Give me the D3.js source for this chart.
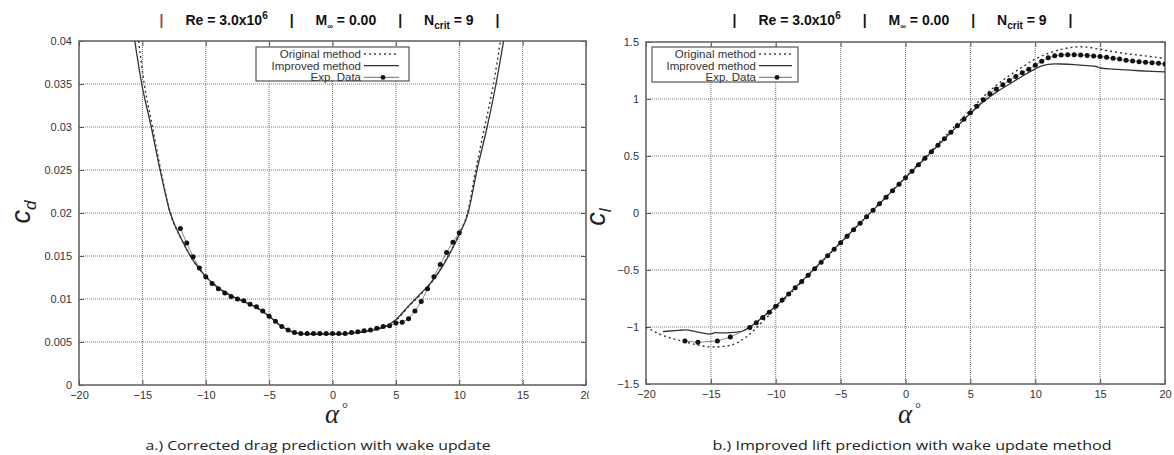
<!DOCTYPE html>
<html>
<head>
<meta charset="utf-8">
<script src="https://cdn.jsdelivr.net/npm/d3@7"></script>
<style>
  body { margin: 0; background: #fff; }
  svg { display: block; }
  .tick-label { font-family: "Liberation Sans", Arial, sans-serif; font-size: 11px; fill: #333; }
  .legend-text { font-family: "Liberation Sans", Arial, sans-serif; font-size: 11.5px; fill: #333; }
  .header { font-family: "Liberation Sans", Arial, sans-serif; font-size: 14px; font-weight: bold; fill: #111; }
  .caption { font-family: "Open Sans", sans-serif; font-size: 13.5px; fill: #222; }
</style>
</head>
<body>
<div id="chart"></div>
<script>
// tick labels
let alphaTicks = [-20, -15, -10, -5, 0, 5, 10, 15, 20];
let cdTicks = [0, 0.005, 0.01, 0.015, 0.02, 0.025, 0.03, 0.035, 0.04];
let clTicks = [-1.5, -1, -0.5, 0, 0.5, 1, 1.5];
let legendLabels = ["Original method", "Improved method", "Exp. Data"];
let captions = ["a.) Corrected drag prediction with wake update", "b.) Improved lift prediction with wake update method"];

// drag polar, [alpha, cd]
let cdOriginal = [[-15.3,0.040],[-14.85,0.035],[-14.2,0.030],[-13.55,0.025],[-12.8,0.020],[-12,0.0172],[-11,0.0145],
  [-10,0.0126],[-9,0.0113],[-8,0.0104],[-7,0.0097],[-6,0.0090],[-5,0.0080],[-4,0.0068],[-3,0.0061],[-2,0.0059],
  [0,0.0059],[2,0.0061],[4,0.0067],[5,0.0075],[6,0.0091],[7,0.0106],[8,0.0123],[9,0.0147],[10,0.0176],
  [10.65,0.020],[11.3,0.025],[12.0,0.030],[12.7,0.035],[13.25,0.040]];
let cdImproved = [[-15.6,0.040],[-15.05,0.035],[-14.3,0.030],[-13.6,0.025],[-12.8,0.020],[-12,0.0172],[-11,0.0145],
  [-10,0.0126],[-9,0.0113],[-8,0.0104],[-7,0.0097],[-6,0.0090],[-5,0.0080],[-4,0.0068],[-3,0.0061],[-2,0.0059],
  [0,0.0059],[2,0.0061],[4,0.0067],[5,0.0076],[6,0.0092],[7,0.0107],[8,0.0123],[9,0.0146],[10,0.0175],
  [10.7,0.020],[11.4,0.025],[12.2,0.030],[12.9,0.035],[13.5,0.040]];
let cdExp = [[-12,0.0182],[-11.5,0.0165],[-11,0.0149],[-10.5,0.0136],[-10,0.0126],[-9.5,0.0118],[-9,0.0112],
  [-8.5,0.0107],[-8,0.0103],[-7.5,0.0100],[-7,0.0098],[-6.5,0.0094],[-6,0.0091],[-5.5,0.0086],[-5,0.0080],
  [-4.5,0.0074],[-4,0.0068],[-3.5,0.0064],[-3,0.0061],[-2.5,0.0060],[-2,0.0060],[-1.5,0.0060],[-1,0.0060],
  [-0.5,0.0060],[0,0.0060],[0.5,0.0060],[1,0.0060],[1.5,0.0061],[2,0.0062],[2.5,0.0063],[3,0.0064],[3.5,0.0066],
  [4,0.0068],[4.5,0.0069],[5,0.0072],[5.5,0.0073],[6,0.0077],[6.5,0.0086],[7,0.0097],[7.5,0.0112],[8,0.0126],
  [8.5,0.0140],[9,0.0154],[9.5,0.0166],[10,0.0177]];

// lift curve, [alpha, cl]
let clOriginal = [[-20,-1.0],[-19,-1.06],[-18,-1.10],[-17,-1.13],[-16,-1.158],[-15,-1.175],[-14,-1.17],[-13,-1.14],
  [-12.25,-1.085],[-11,-0.95],[-10,-0.835],[-9,-0.72],[-8,-0.606],[-6,-0.376],[-4,-0.146],[-2,0.084],[0,0.314],
  [2,0.548],[4,0.785],[5,0.905],[6,1.02],[7,1.12],[8,1.205],[9,1.28],[10,1.35],[11,1.40],[12,1.435],[13,1.455],
  [13.5,1.458],[14,1.455],[15,1.435],[16,1.415],[17,1.398],[18,1.385],[19,1.37],[20,1.357]];
let clImproved = [[-18.7,-1.04],[-17.5,-1.03],[-17,-1.026],[-16,-1.045],[-15,-1.062],[-14.7,-1.05],[-14,-1.052],
  [-13.5,-1.05],[-13,-1.045],[-12.5,-1.033],[-12,-1.0],[-11,-0.912],[-10,-0.815],[-8,-0.598],[-6,-0.372],
  [-4,-0.145],[-2,0.082],[0,0.31],[2,0.536],[4,0.762],[5,0.872],[6,0.975],[7,1.06],[8,1.13],[9,1.20],[10,1.265],
  [10.5,1.29],[11,1.303],[11.5,1.308],[12,1.307],[13,1.302],[14,1.293],[14.7,1.285],[15,1.272],[16,1.262],
  [17,1.255],[18,1.248],[19,1.242],[20,1.238]];
let clExp = [[-17,-1.123],[-16,-1.134],[-14.5,-1.123],[-13.5,-1.088],[-12,-1.005],[-11.5,-0.962],[-11,-0.917],
  [-10.5,-0.870],[-10,-0.818],[-9.5,-0.764],[-9,-0.710],[-8.5,-0.655],[-8,-0.600],[-7.5,-0.545],[-7,-0.488],
  [-6.5,-0.431],[-6,-0.374],[-5.5,-0.317],[-5,-0.260],[-4.5,-0.203],[-4,-0.146],[-3.5,-0.089],[-3,-0.032],
  [-2.5,0.025],[-2,0.082],[-1.5,0.139],[-1,0.196],[-0.5,0.253],[0,0.310],[0.5,0.367],[1,0.424],[1.5,0.481],
  [2,0.538],[2.5,0.595],[3,0.652],[3.5,0.709],[4,0.766],[4.5,0.823],[5,0.880],[5.5,0.937],[6,0.993],[6.5,1.045],
  [7,1.087],[7.5,1.125],[8,1.163],[8.5,1.197],[9,1.230],[9.5,1.262],[10,1.296],[10.5,1.332],[11,1.361],[11.5,1.380],
  [12,1.386],[12.5,1.388],[13,1.388],[13.5,1.386],[14,1.382],[14.5,1.378],[15,1.373],[15.5,1.366],[16,1.357],
  [16.5,1.350],[17,1.340],[17.5,1.333],[18,1.327],[18.5,1.322],[19,1.318],[19.5,1.313],[20,1.308]];

let width = 1174, height = 455;

let svg = d3.select("#chart").append("svg")
  .attr("width", width)
  .attr("height", height);

let defs = svg.append("defs");

function drawPanel(p) {
  let x = d3.scaleLinear().domain([-20, 20]).range([p.left, p.right]);
  let y = d3.scaleLinear().domain(p.yDomain).range([p.bottom, p.top]);

  let root = svg.append("g");
  if (p.clipWidth) {
    defs.append("clipPath").attr("id", "panel-" + p.id)
      .append("rect").attr("x", p.clipX).attr("y", 0).attr("width", p.clipWidth).attr("height", height);
    root.attr("clip-path", "url(#panel-" + p.id + ")");
  }

  defs.append("clipPath").attr("id", "plot-" + p.id)
    .append("rect").attr("x", p.left).attr("y", p.top)
    .attr("width", p.right - p.left).attr("height", p.bottom - p.top);

  // grid
  let grid = root.append("g").attr("stroke", "#777").attr("stroke-width", 1).attr("stroke-dasharray", "1,1");
  grid.selectAll(".gx").data(alphaTicks.slice(1, -1)).enter().append("line")
    .attr("x1", d => x(d)).attr("x2", d => x(d)).attr("y1", p.top).attr("y2", p.bottom);
  grid.selectAll(".gy").data(p.yTicks.slice(1, -1)).enter().append("line")
    .attr("y1", d => y(d)).attr("y2", d => y(d)).attr("x1", p.left).attr("x2", p.right);

  // axes with inward ticks, mirrored
  let axB = d3.axisBottom(x).tickValues(alphaTicks).tickSizeInner(-5).tickSizeOuter(0).tickPadding(6).tickFormat(d3.format("d"));
  let axT = d3.axisTop(x).tickValues(alphaTicks).tickSizeInner(-5).tickSizeOuter(0).tickFormat("");
  let axL = d3.axisLeft(y).tickValues(p.yTicks).tickSizeInner(-5).tickSizeOuter(0).tickPadding(7).tickFormat(d3.format("~g"));
  let axR = d3.axisRight(y).tickValues(p.yTicks).tickSizeInner(-5).tickSizeOuter(0).tickFormat("");

  [[axB, "translate(0," + p.bottom + ")"], [axT, "translate(0," + p.top + ")"],
   [axL, "translate(" + p.left + ",0)"], [axR, "translate(" + p.right + ",0)"]].forEach(a => {
    let g = root.append("g").attr("transform", a[1]).call(a[0]);
    g.select(".domain").remove();
    g.selectAll("line").attr("stroke", "#555");
    g.selectAll("text").attr("class", "tick-label").attr("font-family", null).attr("font-size", null).attr("fill", null);
  });

  root.append("rect")
    .attr("x", p.left).attr("y", p.top)
    .attr("width", p.right - p.left).attr("height", p.bottom - p.top)
    .attr("fill", "none").attr("stroke", "#666").attr("stroke-width", 1.6);

  let curves = root.append("g").attr("clip-path", "url(#plot-" + p.id + ")");
  let smooth = d3.line().x(d => x(d[0])).y(d => y(d[1])).curve(d3.curveMonotoneX);
  let straight = d3.line().x(d => x(d[0])).y(d => y(d[1]));

  curves.append("path").attr("d", straight(p.exp))
    .attr("fill", "none").attr("stroke", "#8a8a8a").attr("stroke-width", 1);
  curves.append("path").attr("d", smooth(p.improved))
    .attr("fill", "none").attr("stroke", "#333").attr("stroke-width", 1.3);
  curves.append("path").attr("d", smooth(p.original))
    .attr("fill", "none").attr("stroke", "#333").attr("stroke-width", 1.4).attr("stroke-dasharray", "2,3");
  curves.selectAll(".dot").data(p.exp).enter().append("circle")
    .attr("cx", d => x(d[0])).attr("cy", d => y(d[1])).attr("r", 2.5).attr("fill", "#111");

  // legend
  let lg = root.append("g");
  lg.append("rect").attr("x", p.legend[0]).attr("y", p.legend[1])
    .attr("width", p.legend[2]).attr("height", p.legend[3])
    .attr("fill", "#fff").attr("stroke", "#555").attr("stroke-width", 1.2);
  legendLabels.forEach((label, i) => {
    let ry = p.legend[1] + 7 + i * 11.7;
    lg.append("text").attr("class", "legend-text").attr("x", p.legendText).attr("y", ry)
      .attr("text-anchor", "end").attr("dy", "0.35em").text(label);
    let line = lg.append("line").attr("x1", p.legendText + 3).attr("x2", p.legendText + p.legendLine)
      .attr("y1", ry).attr("y2", ry);
    if (i === 0) line.attr("stroke", "#444").attr("stroke-width", 1.4).attr("stroke-dasharray", "2,3");
    if (i === 1) line.attr("stroke", "#333").attr("stroke-width", 1.3);
    if (i === 2) {
      line.attr("stroke", "#8a8a8a").attr("stroke-width", 1.2);
      lg.append("circle").attr("cx", p.legendText + 3 + p.legendLine / 2).attr("cy", ry).attr("r", 2.4).attr("fill", "#111");
    }
  });

  // header
  let cx = (p.left + p.right) / 2 - 3;
  let gap = 22;
  let hd = root.append("text").attr("class", "header").attr("x", cx).attr("y", 25).attr("text-anchor", "middle");
  hd.append("tspan").attr("fill", p.barColor).text("|");
  hd.append("tspan").attr("dx", gap).text("Re = 3.0x10");
  hd.append("tspan").attr("dy", -6).attr("font-size", 10).text("6");
  hd.append("tspan").attr("dy", 6).attr("dx", gap).text("|");
  hd.append("tspan").attr("dx", gap).text("M");
  hd.append("tspan").attr("dy", 4).attr("font-size", 8).text("\u221e");
  hd.append("tspan").attr("dy", -4).text(" = 0.00");
  hd.append("tspan").attr("dx", gap).text("|");
  hd.append("tspan").attr("dx", gap).text("N");
  hd.append("tspan").attr("dy", 4).attr("font-size", 10).text("crit");
  hd.append("tspan").attr("dy", -4).text(" = 9");
  hd.append("tspan").attr("dx", gap).text("|");

  // y label
  let yl = root.append("text")
    .attr("transform", "translate(" + p.yLabelX + "," + p.yLabelY + ") rotate(-90)")
    .attr("text-anchor", "middle")
    .attr("font-family", "'Liberation Sans', Arial, sans-serif")
    .attr("font-style", "italic").attr("fill", "#222");
  yl.append("tspan").attr("font-size", 27).text("c");
  yl.append("tspan").attr("font-size", 17).attr("dy", 6).text(p.sub);

  // x label
  let xl = root.append("text").attr("x", (p.left + p.right) / 2 + 4).attr("y", 423)
    .attr("text-anchor", "middle").attr("fill", "#222")
    .attr("font-family", "'Liberation Serif', serif");
  xl.append("tspan").attr("font-size", 27).attr("font-style", "italic").text("\u03b1");
  xl.append("tspan").attr("font-size", 15).attr("dx", 3).attr("dy", -10).text("\u00b0");

  root.append("text").attr("class", "caption")
    .attr("x", p.captionX).attr("y", 450).attr("text-anchor", "middle")
    .attr("textLength", p.captionW).attr("lengthAdjust", "spacingAndGlyphs")
    .text(p.caption);
}

drawPanel({
  id: "cd", left: 79, right: 586, top: 41, bottom: 385,
  yDomain: [0, 0.04], yTicks: cdTicks,
  original: cdOriginal, improved: cdImproved, exp: cdExp,
  legend: [256, 47, 153, 34], legendText: 361, legendLine: 38,
  clipX: 0, clipWidth: 589, barColor: "#a3404c",
  yLabelX: 30, yLabelY: 212, sub: "d",
  captionX: 318, captionW: 345, caption: captions[0]
});

drawPanel({
  id: "cl", left: 646, right: 1165, top: 42, bottom: 384,
  yDomain: [-1.5, 1.5], yTicks: clTicks,
  original: clOriginal, improved: clImproved, exp: clExp,
  legend: [652, 47, 146, 35], legendText: 756, legendLine: 36,
  barColor: "#111",
  yLabelX: 605, yLabelY: 217, sub: "l",
  captionX: 912, captionW: 399, caption: captions[1]
});
</script>
</body>
</html>
